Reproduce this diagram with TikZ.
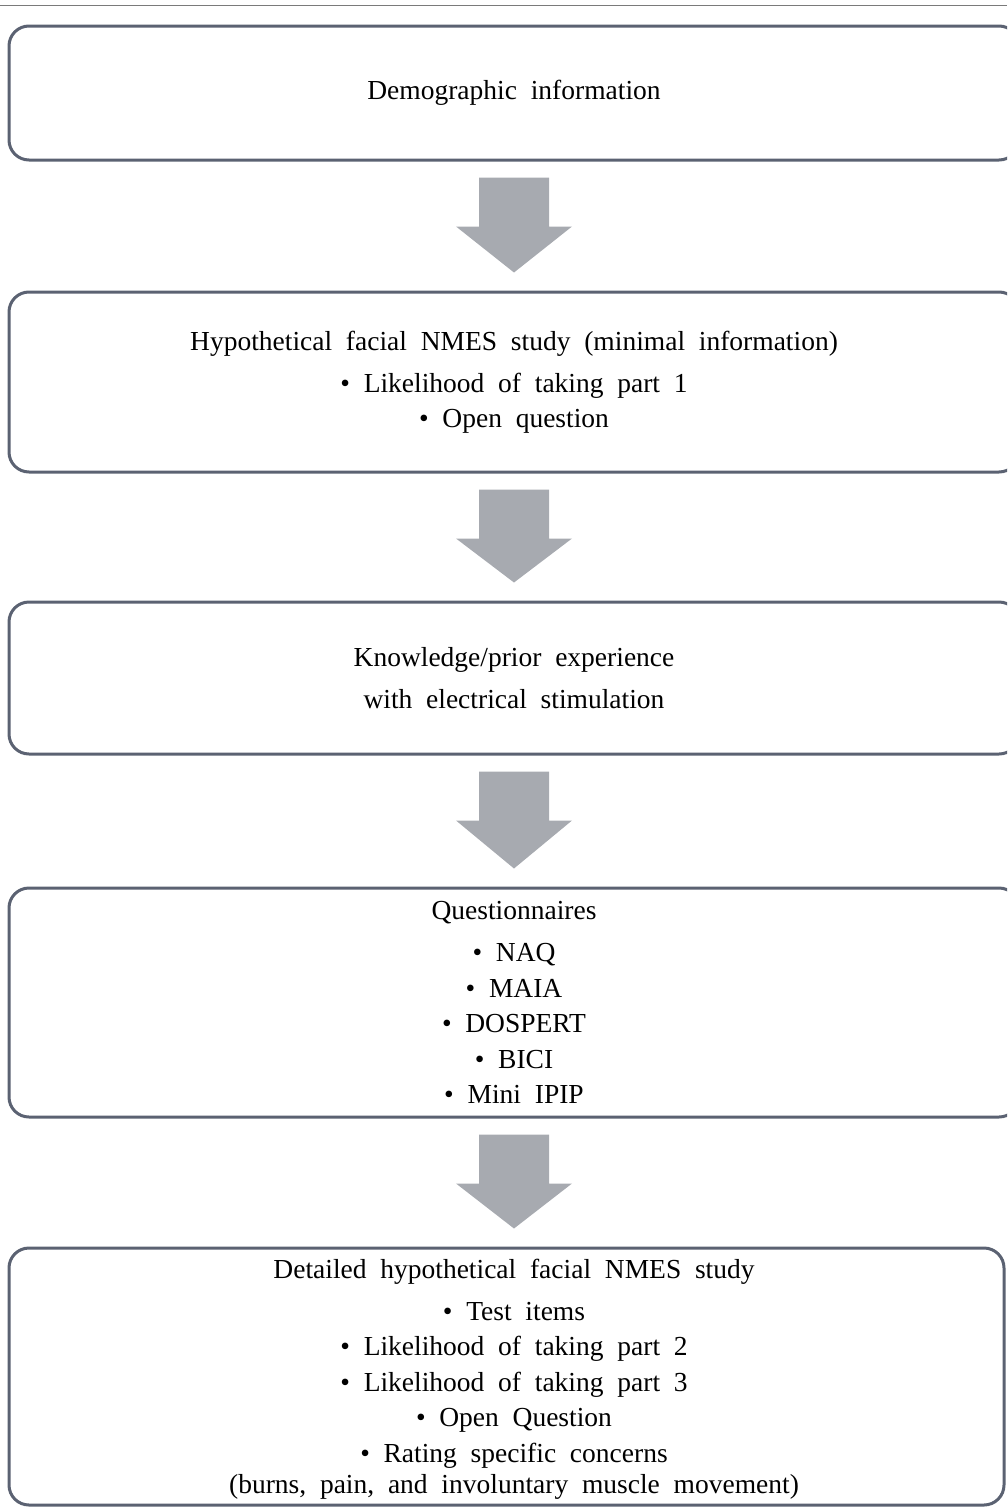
\documentclass[tikz,border=0pt]{standalone}
\usepackage{fontspec}
\setmainfont{Liberation Serif}
\usetikzlibrary{calc}
\definecolor{boxline}{HTML}{5B6272}
\definecolor{arrowgray}{HTML}{A7AAB0}
\definecolor{ruleline}{HTML}{7A7A7A}
\newcommand{\panelfont}{\fontsize{27.5}{35.5}\selectfont\spaceskip=0.5em plus 0.1em\relax}

\begin{document}
\begin{tikzpicture}[x=1pt, y=-1pt,
  panel/.style={draw=boxline, line width=3pt, rounded corners=20pt, fill=white,
    minimum width=1010pt, inner sep=0pt, align=center, font=\panelfont},
  paneltext/.style={align=center, inner sep=0pt, font=\panelfont}]

% --- page frame ---
\useasboundingbox (0,0) rectangle (1007,1507);
\clip (0,0) rectangle (1007,1507);
\draw[ruleline, line width=1.5pt] (0,5.5) -- (1007,5.5);

% --- block arrow from one box to the next: from, to
\newcommand{\flowarrow}[2]{%
  \coordinate (tip) at (#1.south |- #2.north);
  \fill[arrowgray] ([xshift=-35pt,yshift=-16pt]#1.south) -- ([xshift=35pt,yshift=-16pt]#1.south)
    -- ([xshift=35pt,yshift=-65pt]#1.south) -- ([xshift=58pt,yshift=-65pt]#1.south)
    -- ([yshift=18pt]tip) -- ([xshift=-58pt,yshift=-65pt]#1.south)
    -- ([xshift=-35pt,yshift=-65pt]#1.south) -- cycle;
}

% --- boxes (top to bottom) ---
\node[panel, minimum height=134pt] (demo) at (514,93) {Demographic information};

\node[panel, minimum height=180pt] (hypo) at (514,382)
  {Hypothetical facial NMES study (minimal information)\\[6.5pt]
   • Likelihood of taking part 1\\
   • Open question};

\node[panel, minimum height=152pt] (prior) at (514,678)
  {Knowledge/prior experience\\[6.5pt]
   with electrical stimulation};

\node[panel, minimum height=229pt] (quest) at (514,1002.5)
  {Questionnaires\\[6.5pt]
   • NAQ\\
   • MAIA\\
   • DOSPERT\\
   • BICI\\
   • Mini IPIP};

\node[panel, minimum width=995pt, minimum height=257pt] (detail) at (506.5,1376.5) {};
\node[paneltext] (detailtext) at ([xshift=7.5pt,yshift=-3pt]detail.center)
  {Detailed hypothetical facial NMES study\\[6.5pt]
   • Test items\\
   • Likelihood of taking part 2\\
   • Likelihood of taking part 3\\
   • Open Question\\
   • Rating specific concerns\\[-4pt]
   (burns, pain, and involuntary muscle movement)};

% --- arrows ---
\flowarrow{demo}{hypo}
\flowarrow{hypo}{prior}
\flowarrow{prior}{quest}
\flowarrow{quest}{detail}

\end{tikzpicture}
\end{document}
